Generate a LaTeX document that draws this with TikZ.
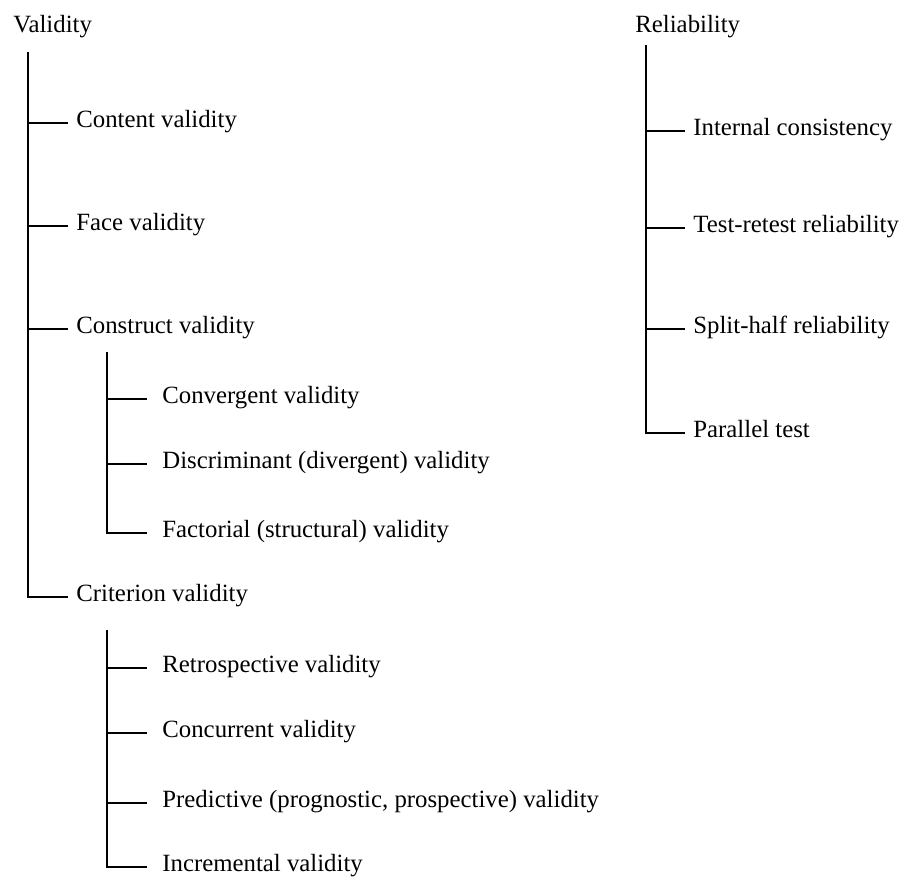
\documentclass[tikz,border=0pt]{standalone}
\usepackage{fontspec}
\setmainfont{Liberation Serif}
\usetikzlibrary{positioning}

\begin{document}
\begin{tikzpicture}[x=0.5pt,y=-0.5pt,
	every node/.style={font=\fontsize{12.4}{14}\selectfont},
	root/.style={inner sep=0pt,anchor=base west},
	item/.style={inner xsep=4pt,inner ysep=0pt,text height=5pt,text depth=0pt,anchor=west},
	subitem/.style={item,inner xsep=7.5pt},
	branch/.style={line width=0.8pt}]
	\useasboundingbox (0,0) rectangle (901,881);
	
	% validity tree
	\node(validity) [root] at (13,33) {Validity};
	\coordinate (valtop) at (28,52);
	
	\node(content) [item] at (68,123) {Content validity};
	\node(face) [item] at (68,226) {Face validity};
	\node(construct) [item] at (68,329) {Construct validity};
	\node(criterion) [item] at (68,597) {Criterion validity};
	
	\coordinate (contop) at (107,352);
	\node(convergent) [subitem] at (147,399) {Convergent validity};
	\node(discriminant) [subitem] at (147,464) {Discriminant (divergent) validity};
	\node(factorial) [subitem] at (147,533) {Factorial (structural) validity};
	
	\coordinate (crittop) at (107,630);
	\node(retrospective) [subitem] at (147,668) {Retrospective validity};
	\node(concurrent) [subitem] at (147,733) {Concurrent validity};
	\node(predictive) [subitem] at (147,803) {Predictive (prognostic, prospective) validity};
	\node(incremental) [subitem] at (147,867) {Incremental validity};
	
	% reliability tree
	\node(reliability) [root] at (635,33) {Reliability};
	\coordinate (reltop) at (646,45);
	
	\node(internal) [item] at (685,131) {Internal consistency};
	\node(testretest) [item] at (685,228) {Test-retest reliability};
	\node(splithalf) [item] at (685,329) {Split-half reliability};
	\node(parallel) [item] at (685,433) {Parallel test};
	
	\draw[branch] (valtop) |- (criterion.west);
	\draw[branch] (valtop |- content.west) -- (content.west);
	\draw[branch] (valtop |- face.west) -- (face.west);
	\draw[branch] (valtop |- construct.west) -- (construct.west);
	
	\draw[branch] (contop) |- (factorial.west);
	\draw[branch] (contop |- convergent.west) -- (convergent.west);
	\draw[branch] (contop |- discriminant.west) -- (discriminant.west);
	
	\draw[branch] (crittop) |- (incremental.west);
	\draw[branch] (crittop |- retrospective.west) -- (retrospective.west);
	\draw[branch] (crittop |- concurrent.west) -- (concurrent.west);
	\draw[branch] (crittop |- predictive.west) -- (predictive.west);
	
	\draw[branch] (reltop) |- (parallel.west);
	\draw[branch] (reltop |- internal.west) -- (internal.west);
	\draw[branch] (reltop |- testretest.west) -- (testretest.west);
	\draw[branch] (reltop |- splithalf.west) -- (splithalf.west);
\end{tikzpicture}
\end{document}
